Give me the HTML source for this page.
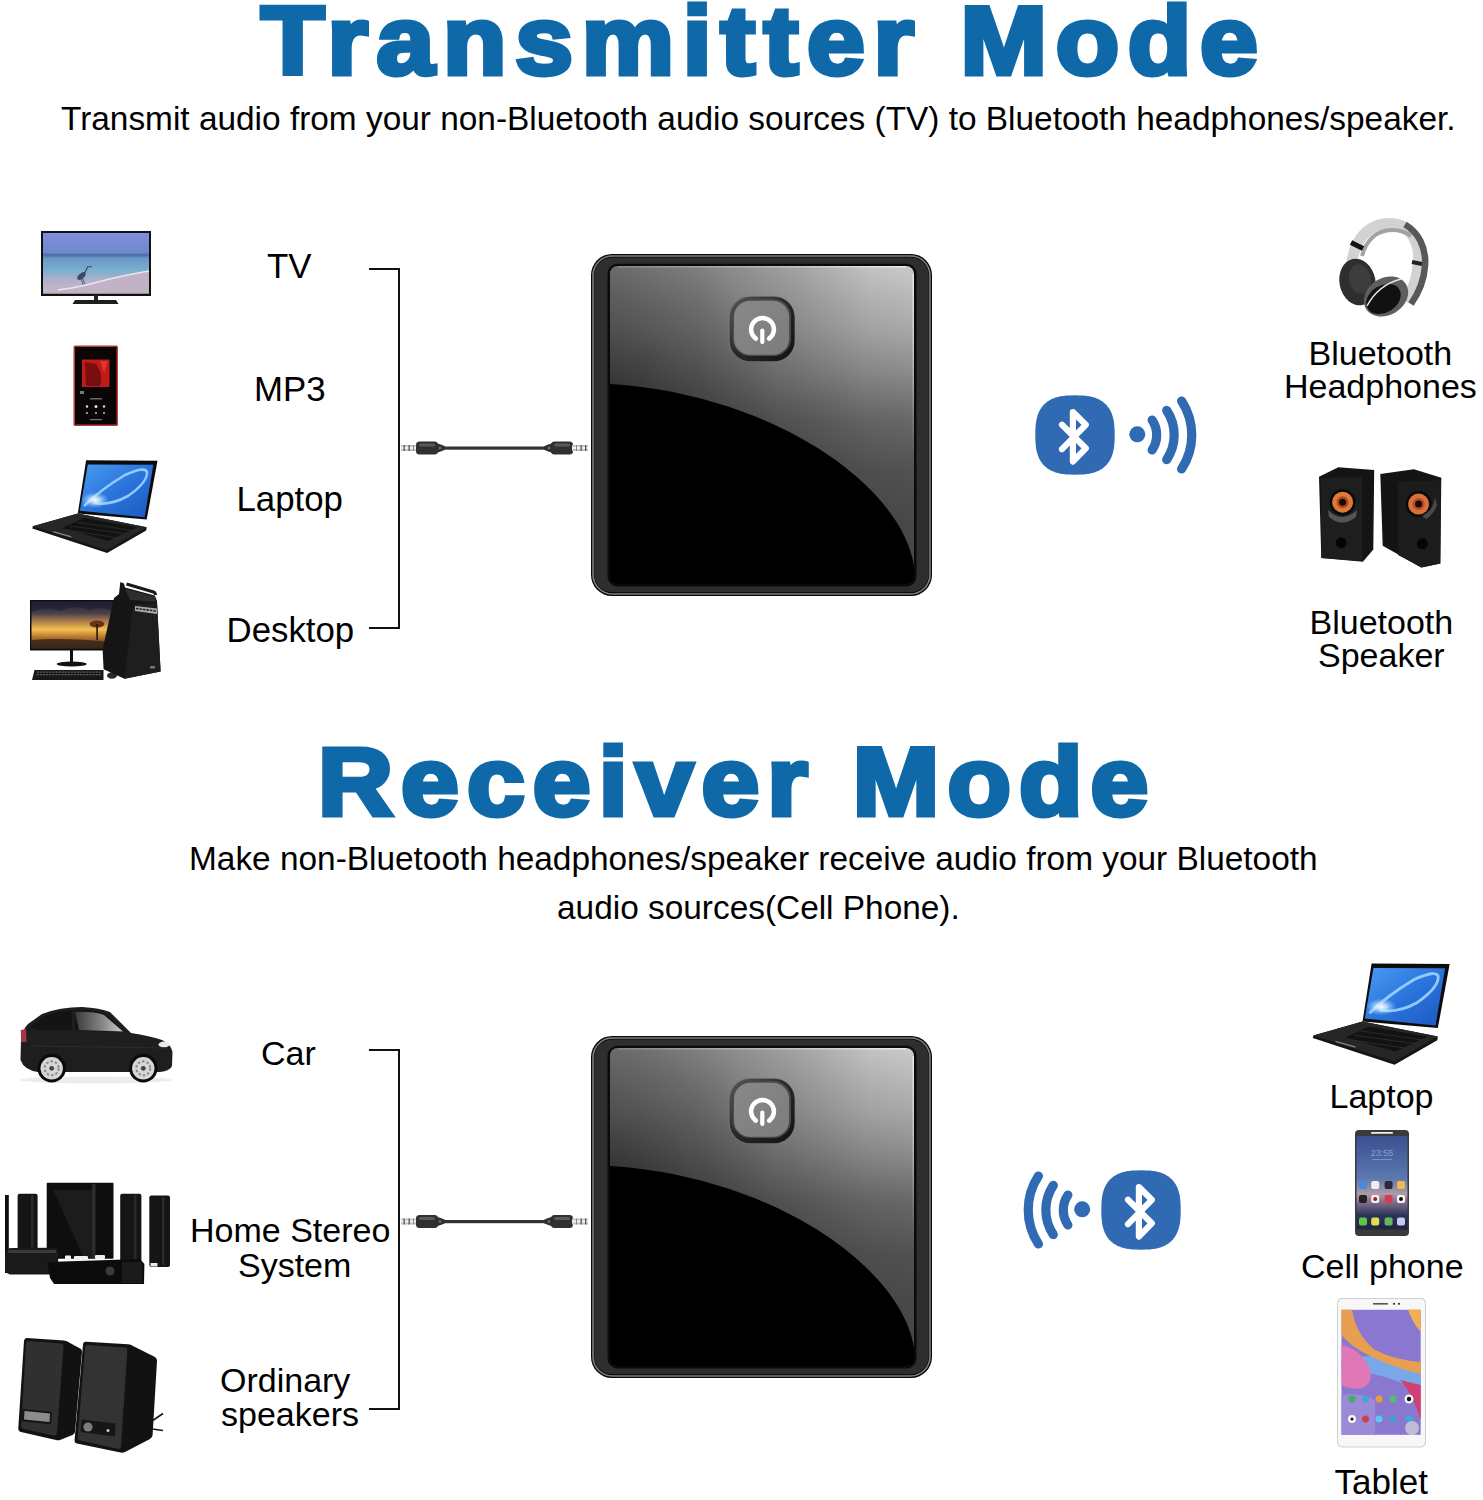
<!DOCTYPE html>
<html>
<head>
<meta charset="utf-8">
<style>
html,body{margin:0;padding:0;background:#fff;}
body{width:1483px;height:1500px;position:relative;overflow:hidden;font-family:"Liberation Sans",sans-serif;color:#000;}
.a{position:absolute;}
.t{position:absolute;white-space:nowrap;line-height:1;font-family:"Liberation Sans",sans-serif;}
.title{font-weight:bold;color:#0f69a8;-webkit-text-stroke:5px #0f69a8;transform:scaleX(1.07);transform-origin:0 0;}
.sub{font-size:33.4px;}
.lb{font-size:34px;}
.ln{position:absolute;background:#111;}
svg{position:absolute;overflow:visible;}
</style>
</head>
<body>


<!-- ============ DEFS ============ -->
<svg width="0" height="0" style="position:absolute;left:0;top:0">
<defs>
  <linearGradient id="pv" x1="0" y1="0" x2="0" y2="1">
    <stop offset="0" stop-color="#cacaca"/>
    <stop offset="0.1" stop-color="#b8b8b8"/>
    <stop offset="0.2" stop-color="#a8a8a8"/>
    <stop offset="0.33" stop-color="#8c8c8c"/>
    <stop offset="0.48" stop-color="#686868"/>
    <stop offset="0.64" stop-color="#525252"/>
    <stop offset="0.8" stop-color="#484848"/>
    <stop offset="1" stop-color="#444"/>
  </linearGradient>
  <linearGradient id="ph" x1="0" y1="0" x2="1" y2="0">
    <stop offset="0" stop-color="#000" stop-opacity="0.45"/>
    <stop offset="0.3" stop-color="#000" stop-opacity="0.36"/>
    <stop offset="0.6" stop-color="#000" stop-opacity="0.2"/>
    <stop offset="0.85" stop-color="#000" stop-opacity="0.04"/>
    <stop offset="1" stop-color="#000" stop-opacity="0"/>
  </linearGradient>
  <radialGradient id="pll" gradientUnits="userSpaceOnUse" cx="19" cy="150" r="170">
    <stop offset="0" stop-color="#000" stop-opacity="0.3"/>
    <stop offset="0.5" stop-color="#000" stop-opacity="0.12"/>
    <stop offset="1" stop-color="#000" stop-opacity="0"/>
  </radialGradient>
  <linearGradient id="pright" x1="0" y1="0" x2="0" y2="1">
    <stop offset="0" stop-color="#f0f0f0"/>
    <stop offset="1" stop-color="#f0f0f0" stop-opacity="0"/>
  </linearGradient>
  <linearGradient id="ptop" x1="0" y1="0" x2="1" y2="0">
    <stop offset="0" stop-color="#888"/>
    <stop offset="1" stop-color="#eee"/>
  </linearGradient>
  <linearGradient id="rimG" x1="0" y1="0" x2="1" y2="1">
    <stop offset="0" stop-color="#5a5a5a"/>
    <stop offset="0.45" stop-color="#2a2a2a"/>
    <stop offset="1" stop-color="#111"/>
  </linearGradient>
  <linearGradient id="btnG" x1="0" y1="0" x2="1" y2="1">
    <stop offset="0" stop-color="#888"/>
    <stop offset="1" stop-color="#7c7c7c"/>
  </linearGradient>
  <symbol id="dev" viewBox="0 0 341 342">
    <rect x="0" y="0" width="341" height="342" rx="21" fill="#070707"/>
    <rect x="2" y="2" width="337" height="338" rx="19.5" fill="none" stroke="#808080" stroke-width="1.6"/>
    <rect x="3.2" y="3.6" width="334.6" height="334.6" rx="18" fill="#2e2e2e"/>
    <rect x="16.5" y="9.8" width="309" height="322.7" rx="10" fill="#0a0a0a"/>
    <rect x="19" y="12" width="304" height="318" rx="8" fill="url(#pv)"/>
    <rect x="19" y="12" width="304" height="318" rx="8" fill="url(#ph)"/>
    <rect x="19" y="12" width="304" height="318" rx="8" fill="url(#pll)"/>
    <rect x="27" y="12.1" width="288" height="1.4" fill="url(#ptop)"/>
    <rect x="321.6" y="20" width="1.2" height="180" fill="url(#pright)"/>
    <path d="M19,130 C180,140 310,230 323,312 L323,322 Q323,330 315,330 L27,330 Q19,330 19,322 Z" fill="#000"/>
    <!-- power button -->
    <rect x="137.6" y="42" width="66.3" height="65.5" rx="21" fill="#777"/>
    <rect x="138.6" y="42.8" width="65" height="64.5" rx="20.5" fill="url(#rimG)"/>
    <rect x="141.5" y="45" width="58.5" height="57" rx="17.5" fill="#4a4a4a"/>
    <rect x="143" y="46.8" width="55" height="54" rx="16" fill="url(#btnG)"/>
    <path d="M164.8,84.6 A11.4,11.4 0 1 1 178.2,84.6" fill="none" stroke="#fff" stroke-width="4.5" stroke-linecap="round"/>
    <line x1="171.3" y1="76.5" x2="171.3" y2="88" stroke="#fff" stroke-width="4.2" stroke-linecap="round"/>
  </symbol>
  <symbol id="bt" viewBox="-40 -40 80 80">
    <path d="M39.7,0.0 L39.6,5.3 L39.4,8.8 L39.1,11.8 L38.7,14.6 L38.1,17.1 L37.4,19.5 L36.6,21.7 L35.7,23.8 L34.6,25.7 L33.4,27.5 L32.1,29.2 L30.7,30.7 L29.2,32.1 L27.5,33.4 L25.7,34.6 L23.8,35.7 L21.7,36.6 L19.5,37.4 L17.1,38.1 L14.6,38.7 L11.8,39.1 L8.8,39.4 L5.3,39.6 L0.0,39.7 L-5.3,39.6 L-8.8,39.4 L-11.8,39.1 L-14.6,38.7 L-17.1,38.1 L-19.5,37.4 L-21.7,36.6 L-23.8,35.7 L-25.7,34.6 L-27.5,33.4 L-29.2,32.1 L-30.7,30.7 L-32.1,29.2 L-33.4,27.5 L-34.6,25.7 L-35.7,23.8 L-36.6,21.7 L-37.4,19.5 L-38.1,17.1 L-38.7,14.6 L-39.1,11.8 L-39.4,8.8 L-39.6,5.3 L-39.7,0.0 L-39.6,-5.3 L-39.4,-8.8 L-39.1,-11.8 L-38.7,-14.6 L-38.1,-17.1 L-37.4,-19.5 L-36.6,-21.7 L-35.7,-23.8 L-34.6,-25.7 L-33.4,-27.5 L-32.1,-29.2 L-30.7,-30.7 L-29.2,-32.1 L-27.5,-33.4 L-25.7,-34.6 L-23.8,-35.7 L-21.7,-36.6 L-19.5,-37.4 L-17.1,-38.1 L-14.6,-38.7 L-11.8,-39.1 L-8.8,-39.4 L-5.3,-39.6 L-0.0,-39.7 L5.3,-39.6 L8.8,-39.4 L11.8,-39.1 L14.6,-38.7 L17.1,-38.1 L19.5,-37.4 L21.7,-36.6 L23.8,-35.7 L25.7,-34.6 L27.5,-33.4 L29.2,-32.1 L30.7,-30.7 L32.1,-29.2 L33.4,-27.5 L34.6,-25.7 L35.7,-23.8 L36.6,-21.7 L37.4,-19.5 L38.1,-17.1 L38.7,-14.6 L39.1,-11.8 L39.4,-8.8 L39.6,-5.3Z" fill="#2f6ab3"/>
    <path d="M-13,-10.2 L10.8,13.3 L-2.1,26.6 L-2.1,-23 L10.8,-10.2 L-13,14.2" fill="none" stroke="#fff" stroke-width="6.2" stroke-linecap="round" stroke-linejoin="round"/>
  </symbol>
  <symbol id="waves" viewBox="0 -40 80 80">
    <!-- center of arcs at x=0 -->
    <path d="M22.1,-15 A26.75,26.75 0 0 1 22.1,15" fill="none" stroke="#2f6ab3" stroke-width="9.2" stroke-linecap="round"/>
    <path d="M36.7,-24.6 A44.25,44.25 0 0 1 36.7,24.6" fill="none" stroke="#2f6ab3" stroke-width="9.2" stroke-linecap="round"/>
    <path d="M51.6,-34 A61.95,61.95 0 0 1 51.6,34" fill="none" stroke="#2f6ab3" stroke-width="9.2" stroke-linecap="round"/>
  </symbol>
</defs>
</svg>

<!-- ============ DEVICES ============ -->
<svg style="left:591px;top:254px" width="341" height="342"><use href="#dev"/></svg>
<svg style="left:591px;top:1036px" width="341" height="342"><use href="#dev"/></svg>

<!-- ============ BT ICONS ============ -->
<svg style="left:1035.3px;top:394.7px" width="80" height="80"><use href="#bt"/></svg>
<svg style="left:1101.3px;top:1170.2px" width="80" height="80"><use href="#bt"/></svg>
<svg style="left:0;top:0" width="1483" height="1500">
  <circle cx="1137.3" cy="434.3" r="8" fill="#2f6ab3"/>
  <circle cx="1082.2" cy="1209.3" r="8" fill="#2f6ab3"/>
</svg>
<svg style="left:1130px;top:394.5px" width="80" height="80"><use href="#waves"/></svg>
<svg style="left:1009.5px;top:1170px;transform:scaleX(-1)" width="80" height="80"><use href="#waves"/></svg>


<!-- ============ PRODUCTS & CABLES ============ -->
<svg style="left:0;top:0" width="1483" height="1500" viewBox="0 0 1483 1500">
<defs>
  <linearGradient id="tvScr" x1="0" y1="0" x2="0" y2="1">
    <stop offset="0" stop-color="#7f90da"/>
    <stop offset="0.33" stop-color="#6f88cc"/>
    <stop offset="0.36" stop-color="#4a6aa0"/>
    <stop offset="0.42" stop-color="#6a98c8"/>
    <stop offset="0.62" stop-color="#7ab0cc"/>
    <stop offset="0.8" stop-color="#b6b0cc"/>
    <stop offset="1" stop-color="#c8b8cc"/>
  </linearGradient>
  <linearGradient id="lapScr" x1="0" y1="0" x2="1" y2="1">
    <stop offset="0" stop-color="#4a9cf2"/>
    <stop offset="0.5" stop-color="#2a74dc"/>
    <stop offset="1" stop-color="#1c58c0"/>
  </linearGradient>
  <radialGradient id="lapGlow">
    <stop offset="0" stop-color="#fff" stop-opacity="1"/>
    <stop offset="0.35" stop-color="#d8f0ff" stop-opacity="0.8"/>
    <stop offset="1" stop-color="#8cd0ff" stop-opacity="0"/>
  </radialGradient>
  <linearGradient id="dskScr" x1="0" y1="0" x2="0" y2="1">
    <stop offset="0" stop-color="#1c2032"/>
    <stop offset="0.25" stop-color="#4a4048"/>
    <stop offset="0.45" stop-color="#b8884a"/>
    <stop offset="0.6" stop-color="#f2c050"/>
    <stop offset="0.75" stop-color="#b87830"/>
    <stop offset="1" stop-color="#2e2218"/>
  </linearGradient>
  <linearGradient id="carWin" x1="0" y1="0" x2="1" y2="0">
    <stop offset="0" stop-color="#3a3a3a"/>
    <stop offset="0.6" stop-color="#8a8a8a"/>
    <stop offset="1" stop-color="#d0d0d0"/>
  </linearGradient>
  <linearGradient id="phScr" x1="0" y1="0" x2="0" y2="1">
    <stop offset="0" stop-color="#3a5090"/>
    <stop offset="0.45" stop-color="#5a78b0"/>
    <stop offset="0.62" stop-color="#b09aa8"/>
    <stop offset="0.72" stop-color="#7a6a88"/>
    <stop offset="0.85" stop-color="#2a3458"/>
    <stop offset="1" stop-color="#1e2440"/>
  </linearGradient>
  <linearGradient id="tabScr" x1="0" y1="0" x2="1" y2="1">
    <stop offset="0" stop-color="#e09a50"/>
    <stop offset="0.25" stop-color="#9a7ad0"/>
    <stop offset="0.5" stop-color="#d070b0"/>
    <stop offset="0.7" stop-color="#8a80d8"/>
    <stop offset="1" stop-color="#c05080"/>
  </linearGradient>
  <g id="laptop">
    <polygon points="77.8,513.5 146.7,527.2 146.2,530.5 107.1,553 32.3,528.6 32.8,526.2" fill="#151515"/>
    <polygon points="32.8,526.2 77.8,513.5 146.7,527.2 107.1,550" fill="#262626"/>
    <polygon points="83.6,518 137.4,527.2 108,541 62,528" fill="#121212"/>
    <path d="M70,526 L128,534 M76,522 L133,530.5 M66,530 L118,538" stroke="#2e2e2e" stroke-width="0.8"/>
    <polygon points="53,531 71,536 71.5,537.5 53.5,532.5" fill="#888"/>
    <polygon points="86.1,460.3 157.5,460.8 146.7,519.5 77.8,513.5" fill="#0c0c0c"/>
    <polygon points="87.8,464.5 153.3,464.8 144.6,517.2 79.8,510.8" fill="url(#lapScr)"/>
    <path d="M84,506 Q100,490 125,475 Q145,466 147,472 Q148,482 128,496 Q110,506 94,503" fill="none" stroke="#9ad4ff" stroke-width="2.6" opacity="0.9"/>
    <ellipse cx="95" cy="500" rx="14" ry="8" fill="url(#lapGlow)"/>
  </g>
</defs>

<!-- cables -->
<g id="cable1">
  <rect x="401" y="445" width="16" height="6" fill="#c4c4c4"/>
  <rect x="401" y="446.8" width="16" height="2.2" fill="#f2f2f2"/>
  <rect x="403.5" y="445" width="1.3" height="6" fill="#555"/>
  <rect x="408.5" y="445" width="1.3" height="6" fill="#555"/>
  <rect x="413" y="445" width="1" height="6" fill="#888"/>
  <rect x="416" y="441.5" width="22" height="13" rx="3.5" fill="#303030"/>
  <rect x="419" y="443.5" width="16" height="3" rx="1.5" fill="#5a5a5a"/>
  <path d="M436,443 Q441,444.5 445,446.3 L445,449.8 Q441,451.5 436,453 Z" fill="#303030"/>
  <circle cx="440" cy="448" r="1.2" fill="#777"/>
  <rect x="444" y="446.5" width="102" height="3.2" fill="#333"/>
  <rect x="551" y="441.5" width="22" height="13" rx="3.5" fill="#303030"/>
  <rect x="554" y="443.5" width="16" height="3" rx="1.5" fill="#5a5a5a"/>
  <path d="M553,443 Q548,444.5 544,446.3 L544,449.8 Q548,451.5 553,453 Z" fill="#303030"/>
  <circle cx="549" cy="448" r="1.2" fill="#777"/>
  <rect x="572" y="445" width="16" height="6" fill="#c4c4c4"/>
  <rect x="572" y="446.8" width="16" height="2.2" fill="#f2f2f2"/>
  <rect x="576" y="445" width="1" height="6" fill="#888"/>
  <rect x="580.5" y="445" width="1.3" height="6" fill="#555"/>
  <rect x="585" y="445" width="1.3" height="6" fill="#555"/>
</g>
<use href="#cable1" transform="translate(0 773.5)"/>

<!-- TV -->
<g>
  <rect x="41" y="231" width="110" height="65" fill="#121212"/>
  <rect x="43" y="233" width="106" height="60.5" fill="url(#tvScr)"/>
  <path d="M43,293.5 L43,291.5 Q70,289.5 92,284 Q120,277 149,271.5 L149,293.5 Z" fill="#c2b2c6"/>
  <path d="M58,290 Q80,287 94,283 Q120,276 149,271" fill="none" stroke="#ece4f0" stroke-width="1.5"/>
  <ellipse cx="81.5" cy="276" rx="5" ry="2.6" transform="rotate(-40 81.5 276)" fill="#3a4a5e"/>
  <path d="M84.5,273.5 L87.5,267 L92,266.5" fill="none" stroke="#3a4a5e" stroke-width="1.2"/>
  <path d="M81,278 L83,285 M82.5,278 L85,284" stroke="#3a4a5e" stroke-width="0.8"/>
  <rect x="94" y="295" width="4" height="5" fill="#222"/>
  <polygon points="72.5,304 75,300 116,300 118.5,304" fill="#1e1e1e"/>
</g>

<!-- MP3 -->
<g>
  <rect x="73.5" y="345.5" width="44.5" height="80.5" rx="1.5" fill="#b83a36"/>
  <rect x="75" y="347" width="41.5" height="77.5" fill="#0a0606"/>
  <rect x="82" y="359.5" width="27.5" height="27.5" fill="#c01a1a"/>
  <path d="M85,362 L96,364 Q104,376 100,386 L86,386 Z" fill="#5a0a0a" opacity="0.7"/>
  <path d="M100,361 L108,361 L104,373 Z" fill="#e83a3a" opacity="0.8"/>
  <rect x="80" y="391" width="4" height="3" fill="#777"/>
  <rect x="90" y="398" width="12" height="1.5" fill="#666"/>
  <circle cx="87" cy="406.5" r="1.2" fill="#ddd"/><circle cx="96" cy="406.5" r="1.5" fill="#ddd"/><circle cx="104" cy="406.5" r="1.2" fill="#ddd"/>
  <circle cx="87" cy="413" r="1" fill="#bbb"/><circle cx="96" cy="413" r="1" fill="#bbb"/><circle cx="104" cy="413" r="1" fill="#bbb"/>
  <rect x="90" y="419" width="12" height="1.2" fill="#777"/>
</g>

<!-- Laptop (transmitter) -->
<use href="#laptop"/>

<!-- Desktop -->
<g>
  <rect x="30" y="600" width="86" height="50.5" fill="#0e0e12"/>
  <rect x="31.5" y="601.5" width="83" height="47" fill="url(#dskScr)"/>
  <path d="M31.5,612 Q45,606 60,611 Q75,604 90,610 Q102,606 114,611 L114,601.5 L31.5,601.5 Z" fill="#1e2030" opacity="0.7"/>
  <ellipse cx="97" cy="624" rx="7.5" ry="3.5" fill="#6a3018"/>
  <rect x="96.3" y="624" width="1.6" height="16" fill="#2a1808"/>
  <path d="M31.5,640 Q60,637 114,642 L114,648.5 L31.5,648.5 Z" fill="#3a2818" opacity="0.85"/>
  <rect x="70" y="650" width="3" height="13" fill="#111"/>
  <ellipse cx="71.7" cy="664" rx="15" ry="2.6" fill="#111"/>
  <polygon points="32,680 34.5,670 103.5,670 103.5,680" fill="#181818"/>
  <path d="M37,672.2 L101,672.2 M36.5,674.6 L101,674.6" stroke="#5a5a5a" stroke-width="1.3" stroke-dasharray="2.2 0.9"/>
  <ellipse cx="112" cy="675.5" rx="5" ry="3.3" fill="#2a2a2a"/>
  <polygon points="120.3,582 124,583.5 125,587.5 154.8,595.5 157,601 160.6,671.4 124.5,678.7 103.6,669.3 102.6,649.4 114,598 119,594" fill="#151515"/>
  <polygon points="134,604 157,603 160.6,671.4 124.5,678.7 132,612" fill="#1e1e1e"/>
  <polygon points="125,589 154.5,596.5 156,602 130,600" fill="#2e2e2e"/>
  <path d="M126.5,584 L153.5,592 Q155.5,592.8 155.5,595" fill="none" stroke="#1a1a1a" stroke-width="3"/>
  <polygon points="135,606 157,608.5 157,614 135,611" fill="#a8a8a8"/>
  <path d="M136,608.5 L156,611" stroke="#222" stroke-width="1.6" stroke-dasharray="2.5 1"/>
  <rect x="150" y="666" width="5" height="2.5" fill="#777"/>
</g>

<!-- Headphones -->
<g>
  <path d="M1351.5,268 C1353,238 1370,223.5 1390,223.5 C1410,223.5 1420,242 1418.5,262 C1417.5,278 1413,290 1407,302" fill="none" stroke="#d2d2d2" stroke-width="11"/>
  <path d="M1362,256 C1366,240 1377,230 1392,230 C1400,230 1406,232 1411,236" fill="none" stroke="#a2a2a2" stroke-width="4"/>
  <path d="M1405,224.5 C1418,232 1426.5,247 1425,266 C1424,281 1418,294 1411,304" fill="none" stroke="#585858" stroke-width="6.5"/>
  <path d="M1351,242.5 L1363,248.5" stroke="#111" stroke-width="5"/>
  <path d="M1412,262 L1422,264" stroke="#222" stroke-width="4"/>
  <ellipse cx="1357.5" cy="282" rx="18" ry="23.5" transform="rotate(-12 1357.5 282)" fill="#2e2e2e"/>
  <ellipse cx="1360" cy="279" rx="11" ry="15" transform="rotate(-12 1360 279)" fill="#3c3c3c"/>
  <ellipse cx="1386" cy="296.5" rx="23.5" ry="18.5" transform="rotate(-32 1386 296.5)" fill="#5e5e5e"/>
  <ellipse cx="1383.5" cy="299" rx="18.5" ry="13.5" transform="rotate(-32 1383.5 299)" fill="#111"/>
  <path d="M1367,306 Q1378,285 1401,279" fill="none" stroke="#e6e6e6" stroke-width="1.3"/>
</g>

<!-- Bluetooth speakers -->
<g>
  <polygon points="1319,476.7 1338.3,467.3 1374.2,470.1 1373.3,549.4 1362.9,561.7 1321.3,558" fill="#141414"/>
  <polygon points="1321,478 1362,477 1362,561 1321.3,558" fill="#1e1e1e"/>
  <circle cx="1342.6" cy="502.2" r="13" fill="#0a0a0a"/>
  <path d="M1328,510 Q1342,524 1357,510 L1356,517 Q1342,528 1329,517 Z" fill="#555"/>
  <circle cx="1342.6" cy="502.2" r="10.5" fill="#e07a36"/>
  <circle cx="1342.6" cy="502.2" r="6" fill="#b04a1e"/>
  <circle cx="1342.6" cy="502.2" r="3.5" fill="#1a0a06"/>
  <circle cx="1341.2" cy="542.8" r="5.5" fill="#050505"/>
  <polygon points="1380.3,473.9 1413.9,469.2 1441.3,477.7 1440.3,563.6 1421.4,567.4 1382.7,545.7" fill="#141414"/>
  <polygon points="1398,482 1441,480 1440.3,563.6 1421.4,567.4 1398,555" fill="#1c1c1c"/>
  <circle cx="1418.6" cy="504.1" r="13" fill="#0a0a0a"/>
  <path d="M1426,519 Q1434,514 1437,505 L1435,497 Q1434,510 1422,516 Z" fill="#4a4a4a"/>
  <circle cx="1418.6" cy="504.1" r="10.5" fill="#d8703a"/>
  <circle cx="1418.6" cy="504.1" r="6" fill="#b04a2a"/>
  <circle cx="1418.6" cy="504.1" r="3.5" fill="#1a0a06"/>
  <circle cx="1422.4" cy="543.8" r="5.5" fill="#050505"/>
</g>

<!-- Car -->
<g>
  <ellipse cx="96" cy="1080" rx="76" ry="3.5" fill="#ececec"/>
  <path d="M20.5,1060 L21,1040 Q22,1030 28,1024 L42,1014 Q60,1007 82,1007 Q100,1008 110,1012 L131,1033 Q150,1036 162,1040 Q171,1044 172.5,1052 L172,1066 Q170,1071 160,1072 L38,1072 Q24,1070 20.5,1060 Z" fill="#1e1e1e"/>
  <path d="M30,1027 L44,1016 Q60,1010 82,1010 Q97,1010.5 106,1014 L124,1032 L90,1031 L60,1030 L38,1030 Z" fill="#141414"/>
  <path d="M75,1012 Q92,1011 104,1015 L123,1031.5 L79,1030 Z" fill="url(#carWin)"/>
  <rect x="72" y="1011" width="3" height="20" fill="#1e1e1e"/>
  <path d="M20.8,1030 L26,1029 L26.5,1042 L21,1042 Z" fill="#a03848"/>
  <ellipse cx="164" cy="1044.5" rx="5.5" ry="3" fill="#eaeaea"/>
  <path d="M30,1046 L168,1048" stroke="#2c2c2c" stroke-width="1"/>
  <circle cx="51.7" cy="1068.3" r="14.2" fill="#0a0a0a"/>
  <circle cx="51.7" cy="1068.3" r="11.2" fill="#d6d6d6"/>
  <circle cx="51.7" cy="1068.3" r="7" fill="none" stroke="#8a8a8a" stroke-width="2" stroke-dasharray="2.5 2"/>
  <circle cx="51.7" cy="1068.3" r="2.4" fill="#444"/>
  <circle cx="143.3" cy="1068.3" r="14.2" fill="#0a0a0a"/>
  <circle cx="143.3" cy="1068.3" r="11.2" fill="#d6d6d6"/>
  <circle cx="143.3" cy="1068.3" r="7" fill="none" stroke="#8a8a8a" stroke-width="2" stroke-dasharray="2.5 2"/>
  <circle cx="143.3" cy="1068.3" r="2.4" fill="#444"/>
</g>

<!-- Home stereo -->
<g>
  <rect x="5" y="1195" width="3.8" height="78" fill="#0e0e0e"/>
  <rect x="17.6" y="1193.7" width="20" height="57" rx="2" fill="#151515"/>
  <rect x="31" y="1195" width="2.5" height="55" fill="#2a2a2a"/>
  <rect x="46.7" y="1182.7" width="66.8" height="76" rx="1" fill="#0e0e0e"/>
  <polygon points="53,1190 92,1190 92,1258 84,1258" fill="#1c1c1c"/>
  <rect x="92" y="1184" width="3.5" height="74" fill="#2c2c2c"/>
  <rect x="120.2" y="1193.7" width="21.2" height="68.5" rx="2" fill="#151515"/>
  <rect x="134" y="1195" width="2.5" height="66" fill="#2a2a2a"/>
  <rect x="149.3" y="1195.5" width="20.7" height="71.6" rx="2" fill="#151515"/>
  <rect x="162" y="1197" width="2.5" height="68" fill="#2a2a2a"/>
  <rect x="150.5" y="1263" width="7" height="3.5" fill="#e8e8e8"/>
  <path d="M5,1252 Q6,1248 12,1248 L53,1247.7 Q58,1248 58.3,1252 L58,1274.4 L10,1274.4 Q5,1273 5,1270 Z" fill="#1a1a1a"/>
  <rect x="8" y="1250" width="48" height="3" fill="#3a3a3a"/>
  <polygon points="47.3,1262 140,1259 144.4,1264 144,1284 54,1284.1 50,1278" fill="#0c0c0c"/>
  <rect x="65" y="1255.5" width="6" height="5" rx="1" fill="#f0f0f0"/>
  <rect x="74" y="1256" width="14" height="4" rx="1" fill="#f0f0f0"/>
  <rect x="95" y="1255" width="10" height="4" rx="1" fill="#f0f0f0"/>
  <circle cx="110" cy="1271" r="4.5" fill="#3a3a3a"/>
  <rect x="122" y="1262" width="20" height="21" fill="#1a1a1a"/>
</g>

<!-- Ordinary speakers -->
<g>
  <path d="M27,1338 L64,1340.5 Q68,1341 70,1343 L81,1349 Q82,1350 82,1352 L75,1432 Q74.5,1434 72.5,1435 L60,1440 Q58,1440.5 56,1440 L21,1432 Q18,1431 18.3,1428 L24,1341 Q24.5,1338 27,1338 Z" fill="#121212"/>
  <path d="M29,1341 L61,1343.5 Q63.5,1344 63.5,1347 L57,1433 Q56.5,1436 53.5,1435.5 L23.5,1429 Q21,1428.5 21.2,1426 L26,1344 Q26.2,1341 29,1341 Z" fill="#303030"/>
  <path d="M23,1409 L51,1411.5 Q52,1411.6 52,1413 L51.2,1423 Q51,1424.5 49.5,1424.3 L22.5,1421.6 Q21.6,1421.5 21.7,1420 L22.4,1410 Q22.5,1409 23,1409 Z" fill="#161616"/>
  <polygon points="24.5,1411 50,1413.5 49.5,1422 24,1419.5" fill="#8c8c8c"/>
  <path d="M86,1341.7 L128,1344.3 Q131,1344.5 133,1346 L155,1357 Q157.2,1358.5 157,1361 L152.6,1435 Q152.4,1437.6 150,1439 L125,1452 Q123,1453 120.5,1452.6 L77,1443.5 Q74.4,1443 74.6,1440 L83,1344.5 Q83.3,1341.6 86,1341.7 Z" fill="#121212"/>
  <path d="M88,1345 L124.5,1347.5 Q127.5,1347.8 127.3,1351 L121,1446 Q120.7,1449.3 117.5,1448.8 L80,1440.6 Q77.4,1440 77.6,1437 L85,1348 Q85.3,1344.8 88,1345 Z" fill="#333"/>
  <polygon points="81.5,1419.5 115.5,1423.5 115,1436.5 80.5,1432" fill="#161616"/>
  <circle cx="88" cy="1427" r="4.6" fill="#7c7c7c"/>
  <circle cx="108" cy="1430.5" r="1.5" fill="#ccc"/>
  <path d="M152,1421 L163,1413.5 M152,1429 L163,1430.5" stroke="#1a1a1a" stroke-width="1.6"/>
</g>

<!-- Laptop (receiver) -->
<use href="#laptop" transform="translate(1277.5 460.3) scale(1.093)"/>

<!-- Cell phone -->
<g>
  <rect x="1355" y="1130" width="54" height="106" rx="4" fill="#3a3a3a"/>
  <rect x="1356.5" y="1136" width="51" height="93.5" fill="url(#phScr)"/>
  <rect x="1371" y="1132" width="22" height="1.8" rx="0.9" fill="#eee"/>
  <text x="1382" y="1156" font-family="Liberation Sans" font-size="9" fill="#8aa0d0" text-anchor="middle">23:55</text>
  <rect x="1372" y="1159" width="20" height="1" fill="#7a90c0"/>
  <g>
    <rect x="1359" y="1181" width="8" height="8" rx="2" fill="#4a88d8"/><rect x="1371.2" y="1181" width="8" height="8" rx="2" fill="#f2eef4"/><rect x="1384.6" y="1181" width="8" height="8" rx="2" fill="#2a2a3a"/><rect x="1397" y="1181" width="8" height="8" rx="2" fill="#f0b850"/>
    <rect x="1359" y="1195" width="8" height="8" rx="2" fill="#222"/><rect x="1371.2" y="1195" width="8" height="8" rx="2" fill="#f4f0f0"/><rect x="1384.6" y="1195" width="8" height="8" rx="2" fill="#d83a5a"/><rect x="1397" y="1195" width="8" height="8" rx="2" fill="#f6f6f6"/>
    <circle cx="1375.2" cy="1199" r="2" fill="#a02020"/><circle cx="1401" cy="1199" r="2" fill="#111"/>
    <rect x="1359" y="1217.5" width="8" height="8" rx="2" fill="#5ac840"/><rect x="1371.2" y="1217.5" width="8" height="8" rx="2" fill="#dce050"/><rect x="1384.6" y="1217.5" width="8" height="8" rx="2" fill="#60b860"/><rect x="1397" y="1217.5" width="8" height="8" rx="2" fill="#c8c8f0"/>
  </g>
</g>

<!-- Tablet -->
<g>
  <rect x="1337" y="1298" width="89" height="149.5" rx="5" fill="#d0d0d0"/>
  <rect x="1338" y="1299" width="87" height="147.5" rx="4.5" fill="#f7f7f7"/>
  <rect x="1341.5" y="1309.8" width="79.2" height="125" fill="#8a78d0"/>
  <path d="M1341.5,1372 Q1375,1368 1420.7,1392 L1420.7,1375 Q1395,1360 1375,1356 Q1355,1356 1341.5,1360 Z" fill="#78a8e8"/>
  <path d="M1341.5,1309.8 L1352,1309.8 Q1356,1335 1375,1350 Q1395,1360 1420.7,1362 L1420.7,1374 Q1395,1368 1370,1356 Q1350,1346 1341.5,1335 Z" fill="#e8a050"/>
  <path d="M1408,1309.8 L1420.7,1309.8 L1420.7,1332 Q1412,1322 1408,1309.8 Z" fill="#f0b050"/>
  <path d="M1341.5,1345 Q1358,1348 1368,1365 Q1376,1382 1362,1388 Q1350,1390 1341.5,1385 Z" fill="#e078b8"/>

  <path d="M1400,1380 Q1412,1392 1420.7,1420 L1420.7,1385 Z" fill="#d04070"/>
  <path d="M1341.5,1395 Q1360,1392 1375,1400 L1375,1434.8 L1341.5,1434.8 Z" fill="#9a8ad8"/>
  <rect x="1373" y="1303" width="15" height="1.6" fill="#555"/>
  <circle cx="1394" cy="1303.8" r="1.1" fill="#333"/><circle cx="1399" cy="1303.8" r="1.1" fill="#333"/>
  <circle cx="1352" cy="1399" r="3.5" fill="#40b060"/><circle cx="1365.5" cy="1399" r="3.5" fill="#40a8d0"/><circle cx="1379" cy="1399" r="3.5" fill="#e0a040"/><circle cx="1393" cy="1399" r="3.5" fill="#50c070"/><circle cx="1409" cy="1399" r="4.5" fill="#f6f6f6"/><circle cx="1409" cy="1399" r="2.2" fill="#111"/>
  <circle cx="1352" cy="1419" r="4" fill="#f6f6f6"/><circle cx="1352" cy="1419" r="1.5" fill="#111"/><circle cx="1365.5" cy="1419" r="3.5" fill="#d04040"/><circle cx="1379" cy="1419" r="3.5" fill="#60c8e8"/><circle cx="1393" cy="1419" r="3.5" fill="#40a0c8"/><circle cx="1409" cy="1419" r="3.5" fill="#40a8d8"/>
  <circle cx="1412" cy="1428" r="7" fill="#e8e8d8" opacity="0.6"/>
</g>
</svg>

<!-- ============ TITLES ============ -->
<div class="t title" id="t1" style="left:261px;top:-8px;font-size:97px;letter-spacing:8.2px;">Transmitter Mode</div>
<div class="t sub" id="s1" style="left:61px;top:102px;">Transmit audio from your non-Bluetooth audio sources (TV) to Bluetooth headphones/speaker.</div>

<div class="t title" id="t2" style="left:318px;top:733px;font-size:97px;letter-spacing:7.6px;">Receiver Mode</div>
<div class="t sub" id="s2a" style="left:189px;top:842px;">Make non-Bluetooth headphones/speaker receive audio from your Bluetooth</div>
<div class="t sub" id="s2b" style="left:557px;top:891px;">audio sources(Cell Phone).</div>

<!-- ============ LEFT LABELS (transmitter) ============ -->
<div class="t lb" style="left:267px;top:248.5px;font-size:34.8px;">TV</div>
<div class="t lb" style="left:254px;top:372px;font-size:34.8px;">MP3</div>
<div class="t lb" style="left:236.5px;top:481.5px;font-size:34.8px;">Laptop</div>
<div class="t lb" style="left:226.5px;top:612.5px;font-size:34.8px;">Desktop</div>

<!-- bracket 1 -->
<div class="ln" style="left:369px;top:268px;width:31px;height:2px;"></div>
<div class="ln" style="left:398px;top:268px;width:2px;height:361px;"></div>
<div class="ln" style="left:369px;top:627px;width:31px;height:2px;"></div>

<!-- ============ RIGHT LABELS (transmitter) ============ -->
<div class="t lb" style="left:1308.5px;top:336px;">Bluetooth</div>
<div class="t lb" style="left:1284px;top:369px;">Headphones</div>
<div class="t lb" style="left:1309.5px;top:605px;">Bluetooth</div>
<div class="t lb" style="left:1318px;top:638px;">Speaker</div>

<!-- ============ LEFT LABELS (receiver) ============ -->
<div class="t lb" style="left:261px;top:1036px;">Car</div>
<div class="t lb" style="left:190px;top:1213px;">Home Stereo</div>
<div class="t lb" style="left:238px;top:1248px;">System</div>
<div class="t lb" style="left:220px;top:1363px;">Ordinary</div>
<div class="t lb" style="left:221px;top:1397px;">speakers</div>

<!-- bracket 2 -->
<div class="ln" style="left:369px;top:1049px;width:31px;height:2px;"></div>
<div class="ln" style="left:398px;top:1049px;width:2px;height:361px;"></div>
<div class="ln" style="left:369px;top:1408px;width:31px;height:2px;"></div>

<!-- ============ RIGHT LABELS (receiver) ============ -->
<div class="t lb" style="left:1329.5px;top:1078.5px;">Laptop</div>
<div class="t lb" style="left:1301px;top:1249px;">Cell phone</div>
<div class="t lb" style="left:1334.5px;top:1464px;font-size:35px;">Tablet</div>

</body>
</html>
